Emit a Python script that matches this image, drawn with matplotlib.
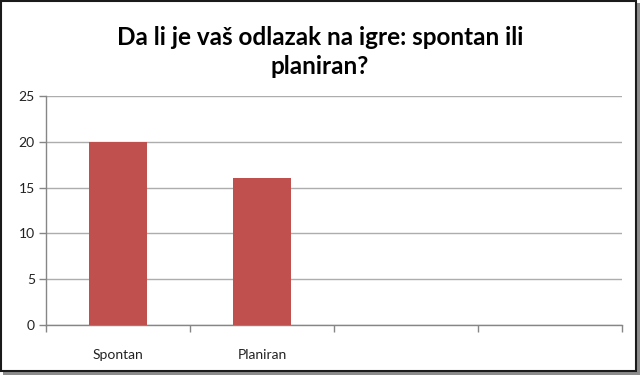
import matplotlib
matplotlib.use("Agg")
import matplotlib.pyplot as plt
from matplotlib.patches import Rectangle
import numpy as np

categories = ["Spontan", "Planiran", "", ""]
values = [20, 16, 0, 0]
yticks = [0, 5, 10, 15, 20, 25]
title = "Da li je vaš odlazak na igre: spontan ili\nplaniran?"

plt.rcParams['font.family'] = ['Lato', 'DejaVu Sans']

fig = plt.figure(figsize=(6.4, 3.75), dpi=100)
ax = fig.add_axes([46/640, 1 - 325/375, 576/640, 229/375])

x = np.arange(len(categories))
ax.bar(x, values, width=0.4, color="#C0504D", zorder=3)

ax.set_xlim(-0.5, len(categories) - 0.5)
ax.set_ylim(0, 25)
ax.set_yticks(yticks)
ax.grid(axis="y", color="#ADADAD", linewidth=1, zorder=0)

ax.set_xticks(np.arange(-0.5, len(categories), 1.0))
ax.set_xticklabels([])
ax.set_xticks(x, minor=True)
ax.set_xticklabels(categories, minor=True)
ax.tick_params(axis="x", which="major", length=5, color="#868686", width=1)
ax.tick_params(axis="x", which="minor", length=0, pad=17, labelsize=10, labelcolor="#222222")
ax.tick_params(axis="y", length=5, color="#868686", width=1, labelsize=10, labelcolor="#222222", pad=3)

for s in ["top", "right"]:
    ax.spines[s].set_visible(False)
for s in ["left", "bottom"]:
    ax.spines[s].set_color("#868686")
    ax.spines[s].set_linewidth(1)

fig.text(0.5, 1 - 52/375, title, ha="center", va="center", fontsize=17.5,
         fontweight="bold", linespacing=1.35, color="black")

# frame with shadow
fig.patches.append(Rectangle((3/640, 0), 637/640, 3/375, transform=fig.transFigure,
                             facecolor="#8C8C8C", edgecolor="none"))
fig.patches.append(Rectangle((637/640, 0), 3/640, 372/375, transform=fig.transFigure,
                             facecolor="#8C8C8C", edgecolor="none"))
fig.patches.append(Rectangle((1/640, 4/375), 635/640, 370/375, transform=fig.transFigure,
                             facecolor="none", edgecolor="#1a1a1a", linewidth=1.5))

fig.savefig("out.png", dpi=100)
